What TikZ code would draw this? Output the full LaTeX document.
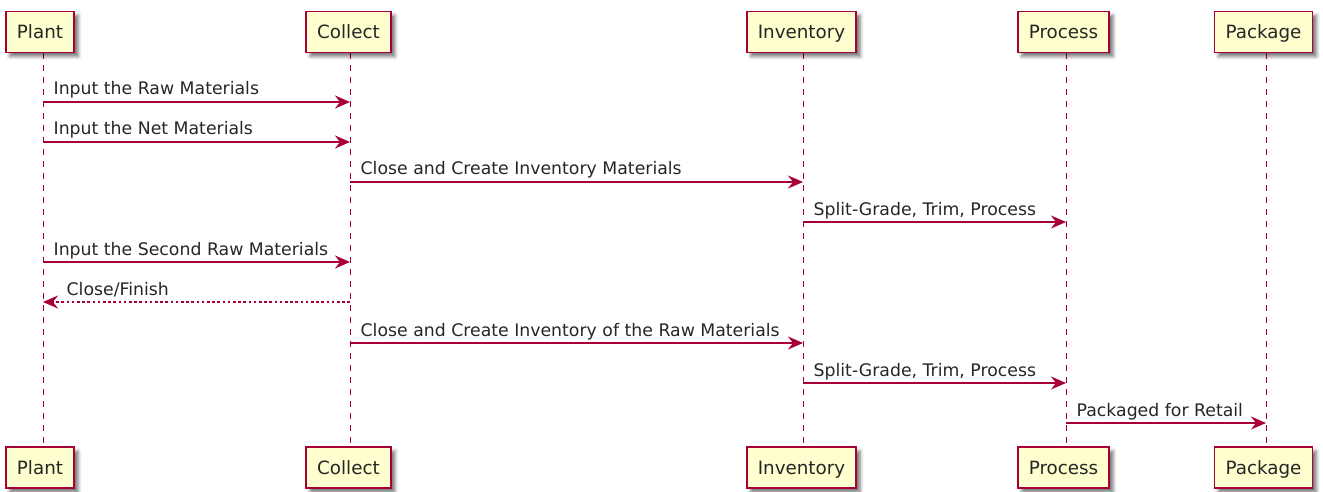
\documentclass[tikz,border=0pt]{standalone}
\usepackage{fontspec}
\setmainfont{DejaVu Sans}
\usetikzlibrary{arrows.meta,shadows.blur}
\definecolor{umlred}{HTML}{A80036}
\definecolor{umlfill}{HTML}{FEFECE}
\begin{document}
\begin{tikzpicture}[x=1pt,y=-1pt,
  actor/.style={draw=umlred, fill=umlfill, line width=1.5pt,
    minimum height=41pt, inner xsep=11pt, inner ysep=0pt,
    text height=13.3pt, text depth=0pt, text=black!85,
    font=\fontsize{18.3}{22}\selectfont,
    blur shadow={shadow xshift=4pt, shadow yshift=-4pt,
      shadow blur radius=3.5pt, shadow opacity=55}},
  lifeline/.style={draw=umlred, line width=0.9pt, dash pattern=on 6pt off 6pt},
  msg/.style={draw=umlred, line width=1.3pt,
    -{Stealth[length=15pt,width=13pt,inset=5pt]}},
  reply/.style={msg, dash pattern=on 2.6pt off 2.6pt},
  lbl/.style={font=\fontsize{17.3}{20}\selectfont, text=black!85,
    inner sep=0pt, anchor=base west}]
\useasboundingbox (0,0) rectangle (1323,492);

% lifelines first, so boxes sit on top of them
\coordinate (lPlant) at (43,0);
\coordinate (lCollect) at (350,0);
\coordinate (lInventory) at (803,0);
\coordinate (lProcess) at (1066,0);
\coordinate (lPackage) at (1266,0);

\draw[lifeline] (lPlant |- 0,53) -- (lPlant |- 0,447);
\draw[lifeline] (lCollect |- 0,53) -- (lCollect |- 0,447);
\draw[lifeline] (lInventory |- 0,53) -- (lInventory |- 0,447);
\draw[lifeline] (lProcess |- 0,53) -- (lProcess |- 0,447);
\draw[lifeline] (lPackage |- 0,53) -- (lPackage |- 0,447);

% participants, top and bottom
\node[actor] (PlantT) at (40,32) {Plant};
\node[actor] (CollectT) at (348.5,32) {Collect};
\node[actor] (InventoryT) at (801.5,32) {Inventory};
\node[actor] (ProcessT) at (1063.5,32) {Process};
\node[actor] (PackageT) at (1263.5,32) {Package};

\node[actor] (PlantB) at (40,467.5) {Plant};
\node[actor] (CollectB) at (348.5,467.5) {Collect};
\node[actor] (InventoryB) at (801.5,467.5) {Inventory};
\node[actor] (ProcessB) at (1063.5,467.5) {Process};
\node[actor] (PackageB) at (1263.5,467.5) {Package};

% messages
\draw[msg] (lPlant |- 0,102) node[lbl, xshift=10pt, yshift=7pt] {Input the Raw Materials} -- (lCollect |- 0,102);
\draw[msg] (lPlant |- 0,142) node[lbl, xshift=10pt, yshift=7pt] {Input the Net Materials} -- (lCollect |- 0,142);
\draw[msg] (lCollect |- 0,182) node[lbl, xshift=10pt, yshift=7pt] {Close and Create Inventory Materials} -- (lInventory |- 0,182);
\draw[msg] (lInventory |- 0,222) node[lbl, xshift=10pt, yshift=7pt] {Split-Grade, Trim, Process} -- (lProcess |- 0,222);
\draw[msg] (lPlant |- 0,262) node[lbl, xshift=10pt, yshift=7pt] {Input the Second Raw Materials} -- (lCollect |- 0,262);
\draw[reply] (lCollect |- 0,302) -- (lPlant |- 0,302) node[lbl, xshift=23pt, yshift=7pt] {Close/Finish};
\draw[msg] (lCollect |- 0,343) node[lbl, xshift=10pt, yshift=7pt] {Close and Create Inventory of the Raw Materials} -- (lInventory |- 0,343);
\draw[msg] (lInventory |- 0,383) node[lbl, xshift=10pt, yshift=7pt] {Split-Grade, Trim, Process} -- (lProcess |- 0,383);
\draw[msg] (lProcess |- 0,423) node[lbl, xshift=10pt, yshift=7pt] {Packaged for Retail} -- (lPackage |- 0,423);
\end{tikzpicture}
\end{document}
